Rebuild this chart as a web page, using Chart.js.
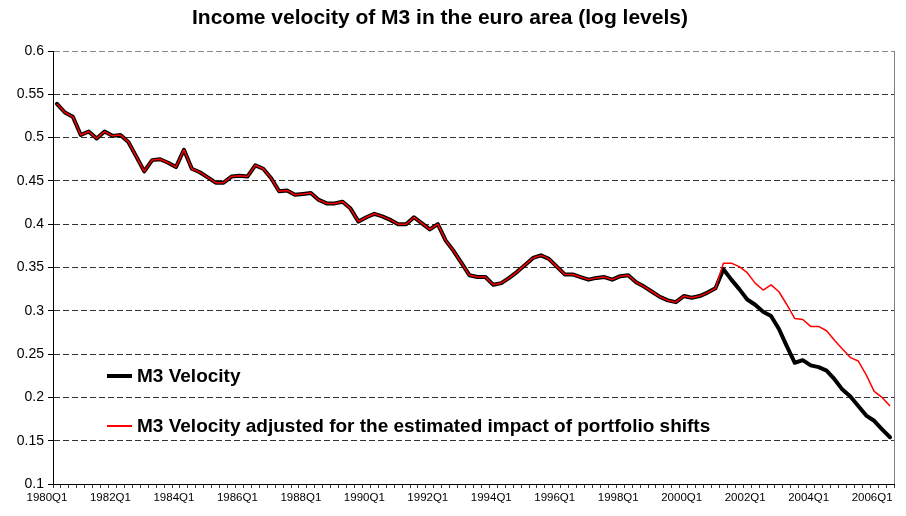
<!DOCTYPE html>
<html>
<head>
<meta charset="utf-8">
<script src="https://cdn.jsdelivr.net/npm/chart.js@4/dist/chart.umd.min.js"></script>
<style>
html,body{margin:0;padding:0;background:#ffffff;}
canvas{display:block;}
</style>
</head>
<body>
<canvas id="c" width="906" height="516"></canvas>
<script>
// ---- data ----
const titleText = 'Income velocity of M3 in the euro area (log levels)';
const seriesNames = ['M3 Velocity', 'M3 Velocity adjusted for the estimated impact of portfolio shifts'];

// quarterly categories 1980Q1 .. 2006Q2
const categories = [];
for (let y = 1980; y <= 2006; y++) {
  for (let q = 1; q <= 4; q++) {
    if (y === 2006 && q > 2) break;
    categories.push(y + 'Q' + q);
  }
}

const tickLabels = ['1980Q1','1982Q1','1984Q1','1986Q1','1988Q1','1990Q1','1992Q1','1994Q1',
                    '1996Q1','1998Q1','2000Q1','2002Q1','2004Q1','2006Q1'];

const yTicks = [0.1, 0.15, 0.2, 0.25, 0.3, 0.35, 0.4, 0.45, 0.5, 0.55, 0.6];

const m3Velocity = [
  0.539, 0.529, 0.524, 0.503, 0.507, 0.499, 0.507, 0.502, 0.503, 0.495,
  0.478, 0.461, 0.474, 0.475, 0.471, 0.466, 0.486, 0.464, 0.460, 0.454,
  0.448, 0.448, 0.455, 0.456, 0.455, 0.468, 0.464, 0.453, 0.438, 0.439,
  0.434, 0.435, 0.436, 0.428, 0.424, 0.424, 0.426, 0.418, 0.403, 0.408,
  0.412, 0.409, 0.405, 0.400, 0.400, 0.408, 0.401, 0.394, 0.400, 0.381,
  0.369, 0.355, 0.341, 0.339, 0.339, 0.330, 0.332, 0.338, 0.345, 0.353,
  0.361, 0.364, 0.360, 0.351, 0.342, 0.342, 0.339, 0.336, 0.338, 0.339,
  0.336, 0.340, 0.341, 0.333, 0.328, 0.322, 0.316, 0.312, 0.310, 0.317,
  0.315, 0.317, 0.321, 0.326, 0.348, 0.336, 0.325, 0.313, 0.307, 0.299,
  0.294, 0.279, 0.259, 0.240, 0.243, 0.237, 0.235, 0.231, 0.221, 0.209,
  0.201, 0.190, 0.179, 0.173, 0.163, 0.154
];

const m3VelocityAdjusted = [
  0.539, 0.529, 0.524, 0.503, 0.507, 0.499, 0.507, 0.502, 0.503, 0.495,
  0.478, 0.461, 0.474, 0.475, 0.471, 0.466, 0.486, 0.464, 0.460, 0.454,
  0.448, 0.448, 0.455, 0.456, 0.455, 0.468, 0.464, 0.453, 0.438, 0.439,
  0.434, 0.435, 0.436, 0.428, 0.424, 0.424, 0.426, 0.418, 0.403, 0.408,
  0.412, 0.409, 0.405, 0.400, 0.400, 0.408, 0.401, 0.394, 0.400, 0.381,
  0.369, 0.355, 0.341, 0.339, 0.339, 0.330, 0.332, 0.338, 0.345, 0.353,
  0.361, 0.364, 0.360, 0.351, 0.342, 0.342, 0.339, 0.336, 0.338, 0.339,
  0.336, 0.340, 0.341, 0.333, 0.328, 0.322, 0.316, 0.312, 0.310, 0.317,
  0.315, 0.317, 0.321, 0.326, 0.355, 0.355, 0.351, 0.344, 0.332, 0.324,
  0.330, 0.322, 0.307, 0.291, 0.290, 0.282, 0.282, 0.277, 0.266, 0.256,
  0.246, 0.242, 0.226, 0.207, 0.200, 0.190
];

// ---- drawing ----
const FONT = '"Liberation Sans", Arial, Helvetica, sans-serif';

const overlay = {
  id: 'overlay',
  afterDraw(chart) {
    const ctx = chart.ctx;
    const a = chart.chartArea;
    ctx.save();
    // right plot border
    ctx.strokeStyle = '#808080';
    ctx.lineWidth = 1;
    ctx.beginPath();
    const rx = Math.round(a.right) + 0.5;
    ctx.moveTo(rx, a.top);
    ctx.lineTo(rx, a.bottom);
    ctx.stroke();

    // title
    ctx.fillStyle = '#000';
    ctx.font = 'bold 21px ' + FONT;
    ctx.textAlign = 'center';
    ctx.textBaseline = 'middle';
    ctx.fillText(titleText, 440, 18);

    // legend inside plot
    const entries = [
      {name: seriesNames[0], color: '#000000', width: 4, y: 376},
      {name: seriesNames[1], color: '#ff0000', width: 2, y: 426}
    ];
    ctx.font = 'bold 19px ' + FONT;
    ctx.textAlign = 'left';
    entries.forEach(e => {
      ctx.strokeStyle = e.color;
      ctx.lineWidth = e.width;
      ctx.lineCap = 'butt';
      ctx.beginPath();
      ctx.moveTo(107, e.y);
      ctx.lineTo(132, e.y);
      ctx.stroke();
      ctx.fillStyle = '#000';
      ctx.fillText(e.name, 137, e.y + 1);
    });
    ctx.restore();
  }
};

new Chart(document.getElementById('c'), {
  type: 'line',
  data: {
    labels: categories,
    datasets: [
      {
        label: seriesNames[1],
        data: m3VelocityAdjusted,
        borderColor: '#ff0000',
        borderWidth: 1.5,
        pointRadius: 0,
        tension: 0,
        fill: false,
        borderJoinStyle: 'round'
      },
      {
        label: seriesNames[0],
        data: m3Velocity,
        borderColor: '#000000',
        borderWidth: 4,
        pointRadius: 0,
        tension: 0,
        fill: false,
        borderJoinStyle: 'round',
        borderCapStyle: 'round'
      }
    ]
  },
  options: {
    responsive: false,
    animation: false,
    devicePixelRatio: 1,
    layout: { padding: { top: 51, right: 12, bottom: 0, left: 0 } },
    plugins: {
      legend: { display: false },
      title: { display: false },
      tooltip: { enabled: false }
    },
    scales: {
      x: {
        type: 'category',
        offset: true,
        afterFit(scale) { scale.height = 32; },
        grid: {
          display: true,
          drawOnChartArea: false,
          drawTicks: true,
          tickLength: 4,
          offset: true,
          color: '#000',
          tickColor: '#333'
        },
        border: { display: true, color: '#000', width: 1 },
        ticks: {
          autoSkip: false,
          maxRotation: 0,
          minRotation: 0,
          labelOffset: -10,
          padding: 3,
          color: '#000',
          font: { family: FONT, size: 11.5 },
          callback: function(value, index) {
            const lab = categories[index];
            return tickLabels.includes(lab) ? lab : '';
          }
        }
      },
      y: {
        min: yTicks[0],
        max: yTicks[yTicks.length - 1],
        afterFit(scale) { scale.width = 53; },
        afterBuildTicks(scale) { scale.ticks = yTicks.map(v => ({ value: v })); },
        grid: {
          color: ctx => (ctx.tick && ctx.tick.value === 0.6) ? '#8a8a8a' : '#333',
          lineWidth: 1,
          drawTicks: true,
          tickLength: 5,
          tickColor: '#000'
        },
        border: { display: true, color: '#000', width: 1, dash: [6, 3] },
        ticks: {
          padding: 4,
          color: '#000',
          font: { family: FONT, size: 14 },
          callback: v => String(Number(v.toFixed(2)))
        }
      }
    }
  },
  plugins: [overlay]
});
</script>
</body>
</html>
